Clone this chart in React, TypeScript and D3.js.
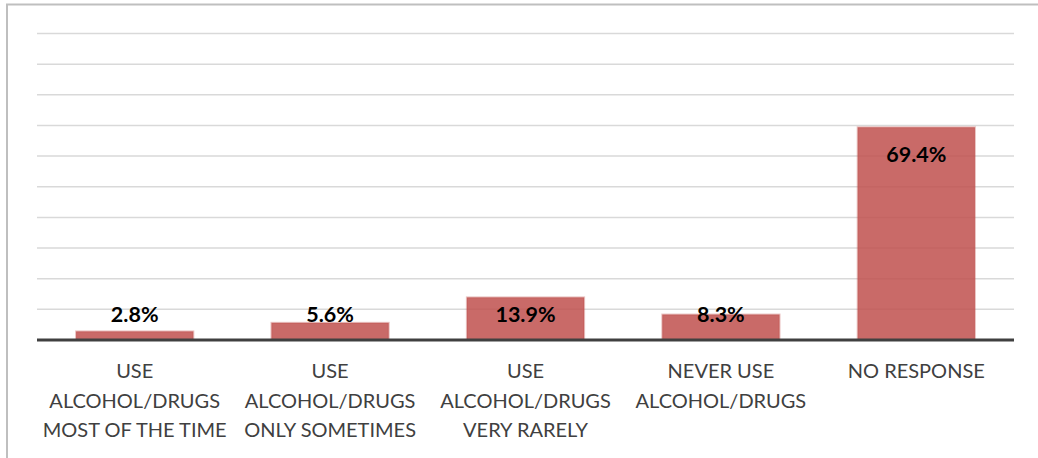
import React from "react";
import * as d3 from "d3";

const categories: string[][] = [
  ["USE", "ALCOHOL/DRUGS", "MOST OF THE TIME"],
  ["USE", "ALCOHOL/DRUGS", "ONLY SOMETIMES"],
  ["USE", "ALCOHOL/DRUGS", "VERY RARELY"],
  ["NEVER USE", "ALCOHOL/DRUGS"],
  ["NO RESPONSE"],
];
const values: number[] = [2.8, 5.6, 13.9, 8.3, 69.4];
const labels: string[] = ["2.8%", "5.6%", "13.9%", "8.3%", "69.4%"];
const gridTicks: number[] = [10, 20, 30, 40, 50, 60, 70, 80, 90, 100];

const W = 1038;
const H = 458;
const left = 37;
const right = 1014;
const top = 33.5;
const bottom = 340;

export default function App() {
  const x = d3
    .scaleBand<number>()
    .domain(values.map((_, i) => i))
    .range([left, right])
    .paddingInner(0.4)
    .paddingOuter(0.2);
  const y = d3.scaleLinear().domain([0, 100]).range([bottom, top]);
  const font = "Lato, 'Open Sans', sans-serif";

  return (
    <svg
      width={W}
      height={H}
      style={{ position: "absolute", left: 0, top: 0, background: "#fff" }}
    >
      <rect x={7} y={4.5} width={W + 20} height={H + 20} fill="#fff" stroke="#bfbfbf" strokeWidth={2} />
      {gridTicks.map((t) => (
        <line key={t} x1={left} x2={right} y1={y(t)} y2={y(t)} stroke="#d9d9d9" strokeWidth={1.5} />
      ))}
      {values.map((v, i) => (
        <rect
          key={i}
          x={x(i)!}
          y={y(v)}
          width={x.bandwidth()}
          height={y(0) - y(v)}
          fill="#c0504d"
          fillOpacity={0.85}
          stroke="#c0504d"
          strokeOpacity={0.35}
          strokeWidth={2}
        />
      ))}
      <line x1={left} x2={right} y1={y(0)} y2={y(0)} stroke="#404040" strokeWidth={3} />
      {values.map((v, i) => (
        <text
          key={i}
          x={x(i)! + x.bandwidth() / 2}
          y={Math.min(y(v) + 35, y(0) - 18)}
          textAnchor="middle"
          fontFamily={font}
          fontWeight="bold"
          fontSize={21.5}
          fill="#000"
        >
          {labels[i]}
        </text>
      ))}
      {categories.map((lines, i) => (
        <text
          key={i}
          x={x(i)! + x.bandwidth() / 2}
          textAnchor="middle"
          fontFamily={font}
          fontSize={20}
          fill="#404040"
        >
          {lines.map((l, j) => (
            <tspan key={j} x={x(i)! + x.bandwidth() / 2} y={378 + j * 29.5}>
              {l}
            </tspan>
          ))}
        </text>
      ))}
    </svg>
  );
}
